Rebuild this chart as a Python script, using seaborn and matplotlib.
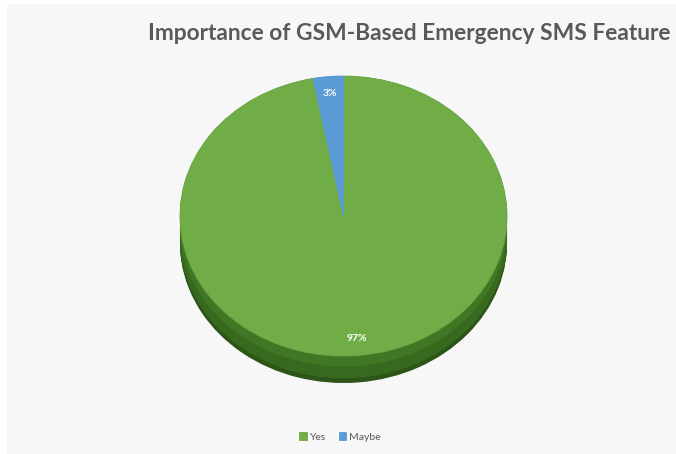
import matplotlib
matplotlib.use("Agg")
import matplotlib.pyplot as plt
import seaborn as sns
import numpy as np
from matplotlib.patches import Rectangle

categories = ["Yes", "Maybe"]
values = [97, 3]
colors = ["#70AD47", "#5B9BD5"]
title = "Importance of GSM-Based Emergency SMS Feature"

sns.set_theme(style="white")
plt.rcParams['font.family'] = ['Lato', 'DejaVu Sans']

W, H = 676, 454
fig = plt.figure(figsize=(W / 100, H / 100), dpi=100, facecolor="white")
fig.patches.append(Rectangle((7 / W, 0), 1, 1 - 4 / H, transform=fig.transFigure,
                             facecolor="#F7F7F7", edgecolor="none", zorder=-10))

cx, cy, rx, ry = 343.5, 216, 163.5, 140
ax = fig.add_axes([0, 0, 1, 1])
ax.set_zorder(5)
ax.patch.set_visible(False)

# 3D side: stacked darker pies
depth = 27 / ry
side_cols = ["#2C5517", "#376A1F", "#3F7724"]
n = 24
for i, d in enumerate(np.linspace(depth, 0.0, n)):
    c = side_cols[0] if i < 4 else (side_cols[1] if i < 14 else side_cols[2])
    ax.pie(values, colors=[c, "#41719C"], startangle=90, counterclock=False,
           radius=1, center=(0, -d), frame=True,
           wedgeprops=dict(linewidth=0))

wedges, texts, autotexts = ax.pie(
    values, colors=colors, startangle=90, counterclock=False, radius=1,
    center=(0, 0), frame=True, autopct=lambda p: f"{p:.0f}%", pctdistance=0.88,
    wedgeprops=dict(linewidth=0.6, edgecolor="#6FA84B"),
    textprops=dict(color="white", fontsize=7.5, fontweight="bold"))
wedges[1].set_edgecolor("#5B9BD5")
ax.set_xlim(-cx / rx, (W - cx) / rx)
ax.set_ylim((cy - H) / ry, cy / ry)
ax.set_aspect("auto")
ax.axis("off")

fig.text(148 / W, 1 - 33 / H, title, ha="left", va="center", fontsize=16.4,
         fontweight="bold", color="#595959")

leg = fig.legend(wedges, categories, loc="center", bbox_to_anchor=(340 / W, 1 - 437 / H),
                 ncol=2, frameon=False, fontsize=7.5, handlelength=0.7, handleheight=0.7,
                 handletextpad=0.3, columnspacing=1.2)
for t in leg.get_texts():
    t.set_color("#595959")

fig.savefig("out.png", dpi=100, facecolor="white")
